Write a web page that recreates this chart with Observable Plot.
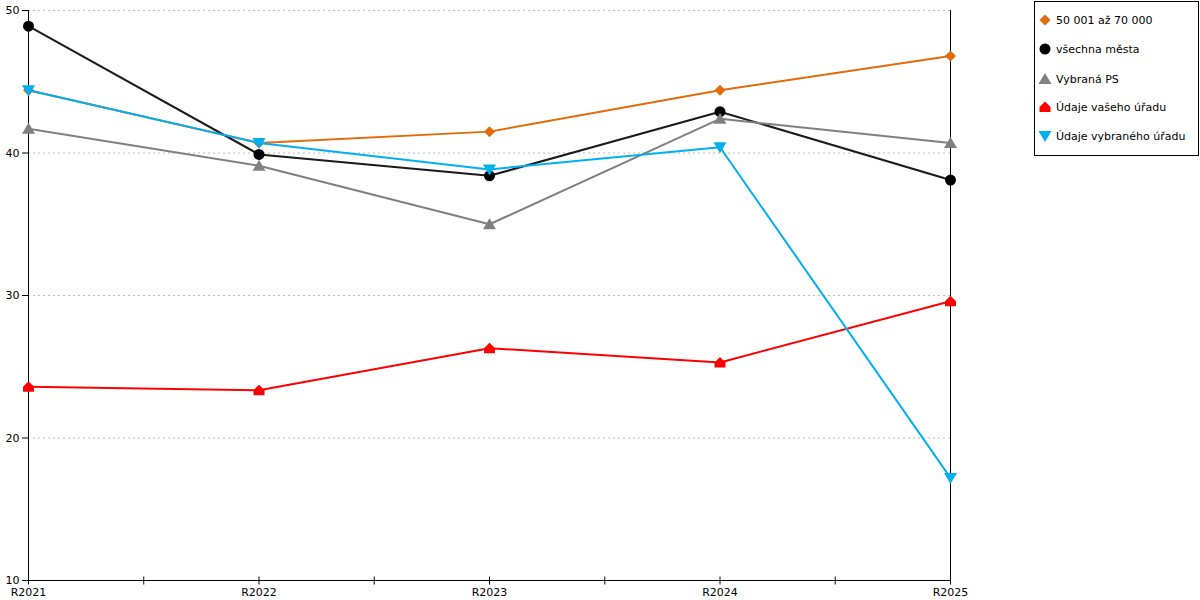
<!DOCTYPE html>
<html><head><meta charset="utf-8">
<script src="https://cdn.jsdelivr.net/npm/d3@7"></script>
<script src="https://cdn.jsdelivr.net/npm/@observablehq/plot@0.6"></script>
<style>
body{margin:0;background:#fff;font-family:"DejaVu Sans",Verdana,sans-serif;}
#wrap{position:relative;width:1200px;height:600px;}
#legend{position:absolute;left:1034px;top:1px;width:165px;height:155px;border:1px solid #000;box-sizing:border-box;font-size:11px;background:#fff;}
.item{position:absolute;left:2px;height:16px;display:flex;align-items:center;color:#000;}
.item svg{margin-right:3px;}
</style></head><body>
<div id="wrap"><div id="chart"></div><div id="legend"></div></div>
<script>
const years = ["R2021","R2022","R2023","R2024","R2025"];
const seriesNames = ["50 001 až 70 000","všechna města","Vybraná PS","Údaje vašeho úřadu","Údaje vybraného úřadu"];
const vals5070 = [44.4, 40.7, 41.5, 44.4, 46.8];
const valsAll = [48.9, 39.9, 38.4, 42.9, 38.1];
const valsPS = [41.7, 39.1, 35.0, 42.4, 40.7];
const valsVas = [23.6, 23.35, 26.3, 25.3, 29.6];
const valsVyb = [44.4, 40.7, 38.85, 40.4, 17.2];
const yTicks = [10, 20, 30, 40, 50];
const colors = ["#E36C09", "#1a1a1a", "#808080", "#FF0000", "#00B0F0"];
const markerColors = ["#E36C09", "#000000", "#808080", "#FF0000", "#00B0F0"];

const diamond = {draw(c){c.moveTo(0,-5.5);c.lineTo(5.5,0);c.lineTo(0,5.5);c.lineTo(-5.5,0);c.closePath();}};
const circle = {draw(c){c.moveTo(5.5,0);c.arc(0,0,5.5,0,2*Math.PI);c.closePath();}};
const triUp = {draw(c){c.moveTo(0,-6);c.lineTo(6.5,5);c.lineTo(-6.5,5);c.closePath();}};
const house = {draw(c){c.moveTo(-5.5,5);c.lineTo(5.5,5);c.lineTo(5.5,0);c.lineTo(0,-5.5);c.lineTo(-5.5,0);c.closePath();}};
const triDown = {draw(c){c.moveTo(-6.5,-5);c.lineTo(6.5,-5);c.lineTo(0,6);c.closePath();}};
const tickSym = {draw(c){c.moveTo(0,-4);c.lineTo(0,4);}};
const symbols = [diamond, circle, triUp, house, triDown];

const allVals = [vals5070, valsAll, valsPS, valsVas, valsVyb];
const seriesData = allVals.map((vals, k) => vals.map((v, i) => ({x: i, y: v, s: seriesNames[k]})));
const majorIdx = years.map((_, i) => i);
const minorIdx = years.slice(1).map((_, i) => i + 0.5);

const marks = [
  Plot.gridY(yTicks.slice(1), {stroke: "#bbb", strokeOpacity: 1, strokeDasharray: "2,3"}),
  Plot.ruleX([0, years.length - 1], {stroke: "#000"}),
  Plot.ruleY([yTicks[0]], {stroke: "#000"}),
  Plot.axisY(yTicks, {label: null, tickSize: 6, tickPadding: 3, fontSize: 11, fill: "#000", stroke: "#000"}),
  Plot.axisX(majorIdx, {label: null, tickSize: 0, tickPadding: 8, fontSize: 11, fill: "#000", tickFormat: i => years[i]}),
  Plot.dot(majorIdx.concat(minorIdx), {x: d => d, y: () => yTicks[0], symbol: tickSym, stroke: "#000", fill: "none", strokeWidth: 1})
];
seriesData.forEach((d, k) => {
  marks.push(Plot.line(d, {x: "x", y: "y", stroke: colors[k], strokeWidth: 2}));
  marks.push(Plot.dot(d, {x: "x", y: "y", symbol: symbols[k], fill: markerColors[k], stroke: "none"}));
});

const chart = Plot.plot({
  width: 1200, height: 600,
  marginLeft: 28, marginRight: 250, marginTop: 10, marginBottom: 20,
  style: {fontFamily: "'DejaVu Sans', Verdana, sans-serif", fontSize: "11px", background: "#fff"},
  x: {type: "linear", domain: [0, years.length - 1], axis: null},
  y: {type: "linear", domain: [yTicks[0], yTicks[yTicks.length - 1]], axis: null},
  marks
});
document.getElementById("chart").appendChild(chart);

const legend = document.getElementById("legend");
const legendTops = [10, 39, 69, 97, 126];
seriesNames.forEach((name, k) => {
  const item = document.createElement("div");
  item.className = "item";
  item.style.top = legendTops[k] + "px";
  const path = d3.symbol().type(symbols[k])();
  item.innerHTML = `<svg width="16" height="16" viewBox="-8 -8 16 16"><path d="${path}" fill="${markerColors[k]}"/></svg><span>${name}</span>`;
  legend.appendChild(item);
});
</script>
</body></html>
